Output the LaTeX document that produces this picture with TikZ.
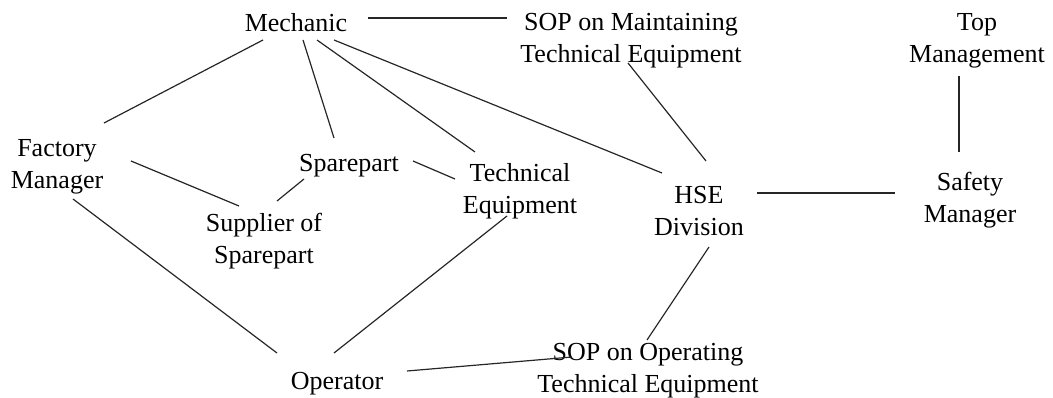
\documentclass[tikz,border=0pt]{standalone}
\usepackage{fontspec}
\setmainfont{Liberation Serif}
\usetikzlibrary{calc}
\newcommand\twoline[2]{\begin{tabular}[t]{@{}c@{}}#1\\#2\end{tabular}}
\begin{document}
\begin{tikzpicture}[x=1pt,y=-1pt,
  lbl/.style={inner sep=0pt, anchor=base, text=black, font=\fontsize{26}{32}\selectfont},
  conn/.style={draw=black!85, line width=1.2pt}]
\useasboundingbox (0,0) rectangle (1053,398);
% nodes
\node[lbl] (mech)   at (296,32)  {Mechanic};
\node[lbl] (sopm)   at (631,31)  {\twoline{SOP on Maintaining}{Technical Equipment}};
\node[lbl] (top)    at (977,31)  {\twoline{Top}{Management}};
\node[lbl] (fm)     at (57,157)  {\twoline{Factory}{Manager}};
\node[lbl] (spare)  at (349,172) {Sparepart};
\node[lbl] (tech)   at (520,182) {\twoline{Technical}{Equipment}};
\node[lbl] (supp)   at (264,232) {\twoline{Supplier of}{Sparepart}};
\node[lbl] (hse)    at (699,204) {\twoline{HSE}{Division}};
\node[lbl] (safety) at (970,191) {\twoline{Safety}{Manager}};
\node[lbl] (oper)   at (337,389) {Operator};
\node[lbl] (sopo)   at (648,360) {\twoline{SOP on Operating}{Technical Equipment}};
% connectors
\draw[conn] ($(mech.base)+(72,-14)$) -- ($(sopm.base)+(-124,-13)$);
\draw[conn] ($(mech.base)+(-33,8)$) -- ($(fm.base)+(47,-34)$);
\draw[conn] ($(mech.base)+(7,8)$) -- ($(spare.base)+(-15,-34)$);
\draw[conn] ($(mech.base)+(21,8)$) -- ($(tech.base)+(-45,-30)$);
\draw[conn] ($(mech.base)+(38,8)$) -- ($(hse.base)+(-37,-31)$);
\draw[conn] ($(sopm.base)+(-3,32)$) -- ($(hse.base)+(7,-43)$);
\draw[conn] ($(top.base)+(-18,45)$) -- ($(safety.base)+(-11,-39)$);
\draw[conn] ($(hse.base)+(58,-11)$) -- ($(safety.base)+(-75,2)$);
\draw[conn] ($(fm.base)+(74,4)$) -- ($(supp.base)+(-25,-26)$);
\draw[conn] ($(spare.base)+(-45,7)$) -- ($(supp.base)+(13,-31)$);
\draw[conn] ($(spare.base)+(64,-11)$) -- ($(tech.base)+(-65,-3)$);
\draw[conn] ($(fm.base)+(16,42)$) -- ($(oper.base)+(-60,-36)$);
\draw[conn] ($(tech.base)+(-13,34)$) -- ($(oper.base)+(-3,-36)$);
\draw[conn] ($(hse.base)+(10,43)$) -- ($(sopo.base)+(-1,-20)$);
\draw[conn] ($(oper.base)+(70,-18)$) -- ($(sopo.base)+(-76,-3)$);
\end{tikzpicture}
\end{document}
